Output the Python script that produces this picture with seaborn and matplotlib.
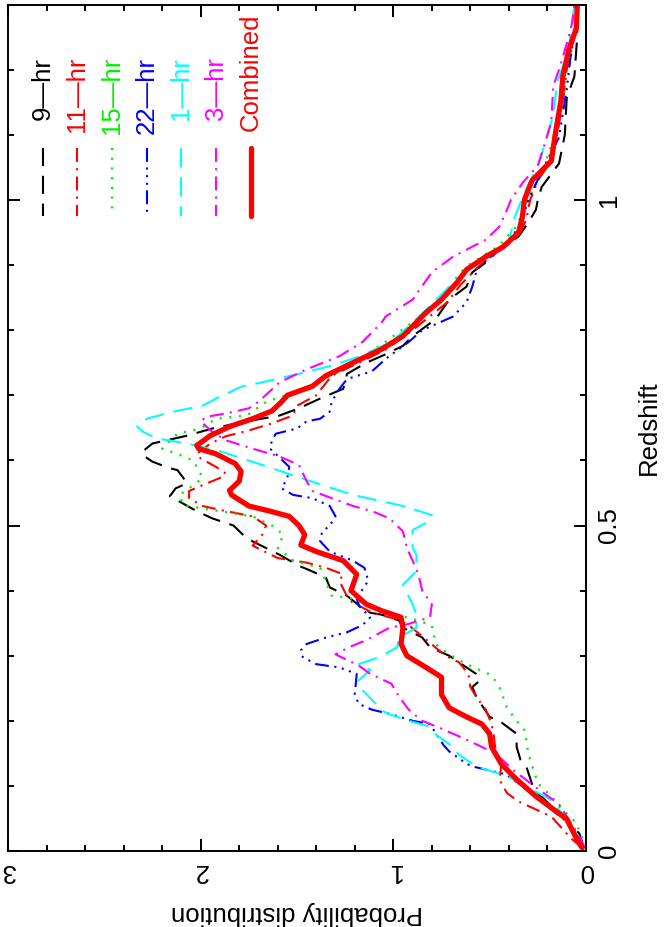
import numpy as np
import pandas as pd
import matplotlib
matplotlib.use("Agg")
import matplotlib.pyplot as plt
from matplotlib.ticker import MultipleLocator, FuncFormatter
import seaborn as sns

# ---------------- data (redshift z, probability p) ----------------
z_9hr = [0.005, 0.027, 0.053, 0.094, 0.13, 0.14, 0.16, 0.18, 0.20, 0.206, 0.237, 0.252, 0.262, 0.272, 0.30, 0.313,
         0.328, 0.343, 0.354, 0.363, 0.366, 0.38, 0.392, 0.405, 0.42, 0.432, 0.438, 0.455, 0.48, 0.50, 0.511, 0.522,
         0.545, 0.557, 0.565, 0.585, 0.588, 0.598, 0.608, 0.614, 0.626, 0.638, 0.649, 0.66, 0.669, 0.68, 0.695, 0.71,
         0.733, 0.75, 0.763, 0.776, 0.791, 0.817, 0.847, 0.867, 0.889, 0.904, 0.924, 0.944, 0.965, 0.985, 1.00, 1.02,
         1.056, 1.10, 1.157, 1.19, 1.245, 1.29]
p_9hr = [0.01, 0.035, 0.12, 0.27, 0.31, 0.34, 0.36, 0.36, 0.45, 0.50, 0.57, 0.59, 0.55, 0.57, 0.71, 0.81,
         0.85, 0.95, 0.97, 1.06, 1.12, 1.19, 1.24, 1.33, 1.35, 1.44, 1.49, 1.59, 1.76, 1.83, 1.94, 2.02,
         2.16, 2.13, 2.07, 2.12, 2.16, 2.25, 2.30, 2.30, 2.25, 2.07, 1.94, 1.76, 1.59, 1.49, 1.38, 1.26,
         1.24, 1.14, 1.04, 0.95, 0.90, 0.78, 0.71, 0.62, 0.59, 0.52, 0.45, 0.35, 0.30, 0.26, 0.25, 0.23,
         0.14, 0.11, 0.10, 0.06, 0.047, 0.045]

z_11hr = [0.005, 0.02, 0.053, 0.076, 0.089, 0.11, 0.13, 0.156, 0.18, 0.195, 0.217, 0.237, 0.252, 0.272, 0.29, 0.30,
          0.347, 0.356, 0.366, 0.385, 0.415, 0.425, 0.435, 0.443, 0.45, 0.469, 0.486, 0.50, 0.514, 0.524, 0.53,
          0.542, 0.553, 0.562, 0.573, 0.58, 0.59, 0.603, 0.61, 0.626, 0.637, 0.646, 0.656, 0.669, 0.684, 0.70,
          0.73, 0.75, 0.77, 0.80, 0.843, 0.87, 0.90, 0.944, 0.97, 1.0, 1.03, 1.06, 1.10, 1.15, 1.20, 1.25, 1.30]
p_11hr = [0.02, 0.08, 0.18, 0.35, 0.41, 0.45, 0.44, 0.47, 0.48, 0.49, 0.52, 0.57, 0.60, 0.61, 0.66, 0.73,
          0.92, 0.98, 1.11, 1.23, 1.28, 1.26, 1.35, 1.45, 1.60, 1.73, 1.68, 1.66, 1.73, 1.90, 1.99,
          2.06, 2.06, 1.99, 1.90, 1.87, 1.92, 2.00, 2.02, 1.95, 1.87, 1.75, 1.64, 1.52, 1.50, 1.40,
          1.32, 1.18, 1.04, 0.90, 0.72, 0.65, 0.55, 0.35, 0.31, 0.29, 0.25, 0.18, 0.15, 0.12, 0.10, 0.06, 0.04]

z_15hr = [0.005, 0.02, 0.043, 0.069, 0.084, 0.104, 0.15, 0.171, 0.186, 0.20, 0.22, 0.252, 0.27, 0.287, 0.302, 0.318,
          0.347, 0.359, 0.363, 0.389, 0.392, 0.435, 0.446, 0.466, 0.486, 0.50, 0.514, 0.522, 0.531, 0.547, 0.557,
          0.573, 0.585, 0.60, 0.61, 0.618, 0.641, 0.649, 0.664, 0.669, 0.69, 0.71, 0.745, 0.78, 0.832, 0.847,
          0.882, 0.898, 0.93, 0.96, 1.0, 1.05, 1.10, 1.15, 1.20, 1.25, 1.30]
p_15hr = [0.005, 0.02, 0.05, 0.14, 0.18, 0.25, 0.30, 0.31, 0.32, 0.36, 0.41, 0.45, 0.49, 0.62, 0.71, 0.78,
          0.80, 0.93, 1.02, 1.23, 1.32, 1.38, 1.52, 1.60, 1.57, 1.63, 1.73, 1.90, 2.09, 2.11, 2.06,
          1.99, 2.01, 2.04, 2.12, 2.20, 2.12, 2.00, 1.92, 1.76, 1.66, 1.45, 1.23, 1.05, 0.81, 0.73,
          0.67, 0.62, 0.45, 0.36, 0.30, 0.22, 0.16, 0.12, 0.10, 0.06, 0.04]

z_22hr = [0.005, 0.027, 0.05, 0.08, 0.10, 0.118, 0.13, 0.134, 0.153, 0.163, 0.195, 0.20, 0.21, 0.217, 0.226, 0.241,
          0.272, 0.282, 0.287, 0.298, 0.308, 0.318, 0.328, 0.336, 0.347, 0.359, 0.377, 0.389, 0.415, 0.435, 0.446,
          0.46, 0.476, 0.49, 0.50, 0.514, 0.53, 0.542, 0.547, 0.557, 0.573, 0.59, 0.61, 0.618, 0.631, 0.641, 0.649,
          0.66, 0.664, 0.675, 0.69, 0.71, 0.725, 0.737, 0.756, 0.782, 0.80, 0.821, 0.843, 0.867, 0.889, 0.898,
          0.93, 0.96, 1.0, 1.05, 1.096, 1.17, 1.22, 1.27, 1.30]
p_22hr = [0.01, 0.04, 0.12, 0.25, 0.33, 0.42, 0.59, 0.62, 0.71, 0.74, 0.81, 0.90, 1.01, 1.11, 1.18, 1.20,
          1.19, 1.28, 1.40, 1.47, 1.48, 1.45, 1.35, 1.24, 1.16, 1.12, 1.18, 1.19, 1.13, 1.15, 1.21,
          1.33, 1.38, 1.37, 1.33, 1.30, 1.33, 1.42, 1.52, 1.58, 1.55, 1.54, 1.61, 1.64, 1.63, 1.61, 1.50,
          1.45, 1.38, 1.33, 1.32, 1.28, 1.24, 1.11, 1.04, 0.92, 0.85, 0.69, 0.62, 0.59, 0.57, 0.55,
          0.43, 0.34, 0.30, 0.22, 0.14, 0.10, 0.08, 0.05, 0.04]

z_1hr = [0.005, 0.018, 0.05, 0.08, 0.107, 0.115, 0.127, 0.13, 0.148, 0.16, 0.179, 0.191, 0.20, 0.21, 0.217, 0.226,
         0.247, 0.262, 0.278, 0.287, 0.298, 0.313, 0.328, 0.343, 0.363, 0.379, 0.409, 0.43, 0.455, 0.466, 0.493,
         0.507, 0.516, 0.53, 0.547, 0.57, 0.593, 0.614, 0.626, 0.634, 0.644, 0.652, 0.664, 0.675, 0.684, 0.695,
         0.713, 0.722, 0.733, 0.744, 0.759, 0.782, 0.806, 0.84, 0.882, 0.904, 0.936, 0.974, 1.01, 1.06, 1.13,
         1.18, 1.23, 1.28, 1.30]
p_1hr = [0.005, 0.03, 0.10, 0.19, 0.36, 0.41, 0.54, 0.57, 0.66, 0.69, 0.78, 0.81, 0.92, 1.02, 1.07, 1.09,
         1.16, 1.18, 1.12, 1.18, 1.07, 0.98, 0.97, 0.88, 0.88, 0.90, 0.95, 0.88, 0.88, 0.90, 0.90,
         0.81, 0.80, 0.95, 1.21, 1.45, 1.68, 1.90, 2.07, 2.23, 2.30, 2.33, 2.28, 2.14, 1.99, 1.92,
         1.79, 1.65, 1.49, 1.34, 1.18, 1.01, 0.92, 0.80, 0.66, 0.55, 0.40, 0.37, 0.32, 0.24, 0.17,
         0.15, 0.09, 0.07, 0.06]

z_3hr = [0.005, 0.03, 0.072, 0.10, 0.125, 0.15, 0.171, 0.188, 0.20, 0.217, 0.237, 0.257, 0.272, 0.285, 0.302, 0.313,
         0.324, 0.343, 0.348, 0.359, 0.379, 0.40, 0.425, 0.446, 0.466, 0.491, 0.511, 0.522, 0.53, 0.542, 0.553,
         0.568, 0.593, 0.606, 0.618, 0.631, 0.644, 0.66, 0.667, 0.672, 0.68, 0.69, 0.72, 0.74, 0.76, 0.782,
         0.812, 0.821, 0.847, 0.889, 0.913, 0.939, 0.959, 0.985, 1.0, 1.026, 1.053, 1.09, 1.12, 1.175, 1.2,
         1.22, 1.25, 1.275, 1.30]
p_3hr = [0.005, 0.05, 0.14, 0.27, 0.38, 0.47, 0.62, 0.75, 0.85, 0.92, 0.97, 1.01, 1.12, 1.18, 1.30, 1.23,
         1.14, 1.02, 0.93, 0.81, 0.80, 0.85, 0.87, 0.90, 0.93, 0.95, 1.02, 1.11, 1.21, 1.32, 1.42,
         1.45, 1.49, 1.59, 1.73, 1.87, 1.94, 2.00, 1.97, 1.87, 1.75, 1.70, 1.59, 1.45, 1.28, 1.16,
         1.06, 1.04, 0.90, 0.80, 0.69, 0.52, 0.45, 0.41, 0.39, 0.33, 0.25, 0.21, 0.18, 0.17, 0.14,
         0.12, 0.09, 0.07, 0.06]

z_comb = [0.005, 0.018, 0.049, 0.084, 0.11, 0.134, 0.16, 0.18, 0.195, 0.206, 0.22, 0.24, 0.267, 0.282, 0.30, 0.318,
          0.343, 0.359, 0.369, 0.379, 0.40, 0.425, 0.446, 0.46, 0.47, 0.486, 0.50, 0.514, 0.522, 0.53, 0.547,
          0.554, 0.568, 0.583, 0.595, 0.61, 0.618, 0.623, 0.638, 0.652, 0.664, 0.676, 0.69, 0.70, 0.714, 0.73,
          0.75, 0.771, 0.791, 0.827, 0.847, 0.873, 0.893, 0.913, 0.928, 0.95, 0.974, 1.0, 1.03, 1.06, 1.10,
          1.153, 1.19, 1.23, 1.264, 1.30]
p_comb = [0.02, 0.047, 0.10, 0.26, 0.36, 0.44, 0.49, 0.50, 0.54, 0.62, 0.71, 0.75, 0.75, 0.83, 0.93, 0.96,
          0.95, 0.96, 1.06, 1.14, 1.22, 1.19, 1.26, 1.40, 1.48, 1.46, 1.49, 1.54, 1.64, 1.75, 1.84,
          1.85, 1.80, 1.79, 1.82, 1.92, 2.01, 2.02, 1.95, 1.85, 1.73, 1.63, 1.58, 1.55, 1.42, 1.35,
          1.21, 1.06, 0.95, 0.83, 0.75, 0.67, 0.62, 0.52, 0.43, 0.35, 0.33, 0.32, 0.28, 0.18, 0.16,
          0.13, 0.12, 0.09, 0.05, 0.045]

labels = ["9\u2014hr", "11\u2014hr", "15\u2014hr", "22\u2014hr", "1\u2014hr", "3\u2014hr", "Combined"]
x_ticks = [0, 1, 2, 3]
y_ticks = [0, 0.5, 1]

# ---------------- style ----------------
sns.set_theme(style="ticks")
plt.rcParams['font.family'] = ['Liberation Sans', 'DejaVu Sans']
plt.rcParams['lines.scale_dashes'] = False
plt.rcParams['axes.linewidth'] = 1.4
FS = 18.5

series = [
    (z_9hr, p_9hr, "#000000", (0, (13, 7)), 1.5),
    (z_11hr, p_11hr, "#ff0000", (0, (10, 4.5, 1.5, 4.5)), 1.5),
    (z_15hr, p_15hr, "#00ee00", (0, (1.5, 5.5)), 1.7),
    (z_22hr, p_22hr, "#0000ff", (0, (10, 4, 1.5, 4, 1.5, 4, 1.5, 4)), 1.5),
    (z_1hr, p_1hr, "#00ffff", (0, (14, 7)), 1.5),
    (z_3hr, p_3hr, "#ff00ff", (0, (10, 4.5, 1.5, 4.5)), 1.5),
    (z_comb, p_comb, "#ff0000", "-", 3.8),
]

fig = plt.figure(figsize=(6.7, 9.27), dpi=100)
ax = fig.add_axes([0.01194, 0.08198, 0.86266, 0.91295])

for z, p, col, ls, lw in series:
    df = pd.DataFrame({"p": p, "z": z})
    sns.lineplot(data=df, x="p", y="z", sort=False, estimator=None, color=col,
                 linestyle=ls, linewidth=lw, legend=False, ax=ax)

ax.set_xlim(3, 0)
ax.set_ylim(0, 1.3)
ax.xaxis.set_major_locator(MultipleLocator(1))
ax.xaxis.set_minor_locator(MultipleLocator(0.2))
ax.yaxis.set_major_locator(MultipleLocator(0.5))
ax.yaxis.set_minor_locator(MultipleLocator(0.1))
fmt = FuncFormatter(lambda v, _: f"{v:g}")
ax.xaxis.set_major_formatter(fmt)
ax.yaxis.set_major_formatter(fmt)
ax.yaxis.tick_right()
ax.yaxis.set_label_position("right")
ax.tick_params(which="both", direction="in", top=True, bottom=True, left=True, right=True,
               labelleft=False, labelright=True, labeltop=False, labelbottom=True,
               width=1.4, color="black", labelcolor="black", labelsize=FS)
ax.tick_params(which="major", length=8.5)
ax.tick_params(which="minor", length=4.3)
ax.tick_params(axis="x", labelrotation=180, pad=6)
ax.tick_params(axis="y", labelrotation=90, pad=8)
for t in ax.yaxis.get_major_ticks():
    t.label2.set_verticalalignment("center")
for s in ax.spines.values():
    s.set_color("black")
    s.set_linewidth(1.4)

ax.set_xlabel("Probability distribution", rotation=180, labelpad=13, fontsize=FS, color="black")
ax.set_ylabel("Redshift", rotation=90, fontsize=FS, color="black")
ax.yaxis.set_label_coords(1.088, 0.5)
ax.grid(False)

# ---------------- legend (drawn manually, rotated) ----------------
ax_l, ax_w, ax_top, ax_h = 8.0, 578.0, 851.0, 846.3
def fx(px):
    return (px - ax_l) / ax_w
def fy(py):
    return (ax_top - py) / ax_h

for i, (lab, (z, p, col, ls, lw)) in enumerate(zip(labels, series)):
    xp = 42.7 + 34.7 * i
    ax.plot([fx(xp), fx(xp)], [fy(148), fy(216)], transform=ax.transAxes,
            color=col, linestyle=ls, linewidth=lw, clip_on=False)
    if lab == "Combined":
        ax.text(fx(xp), fy(131), lab, transform=ax.transAxes, rotation=90,
                ha="center", va="bottom", color=col, fontsize=FS)
    else:
        ax.text(fx(xp), fy(57), lab, transform=ax.transAxes, rotation=90,
                ha="center", va="top", color=col, fontsize=FS)

fig.savefig("out.png", dpi=100)
